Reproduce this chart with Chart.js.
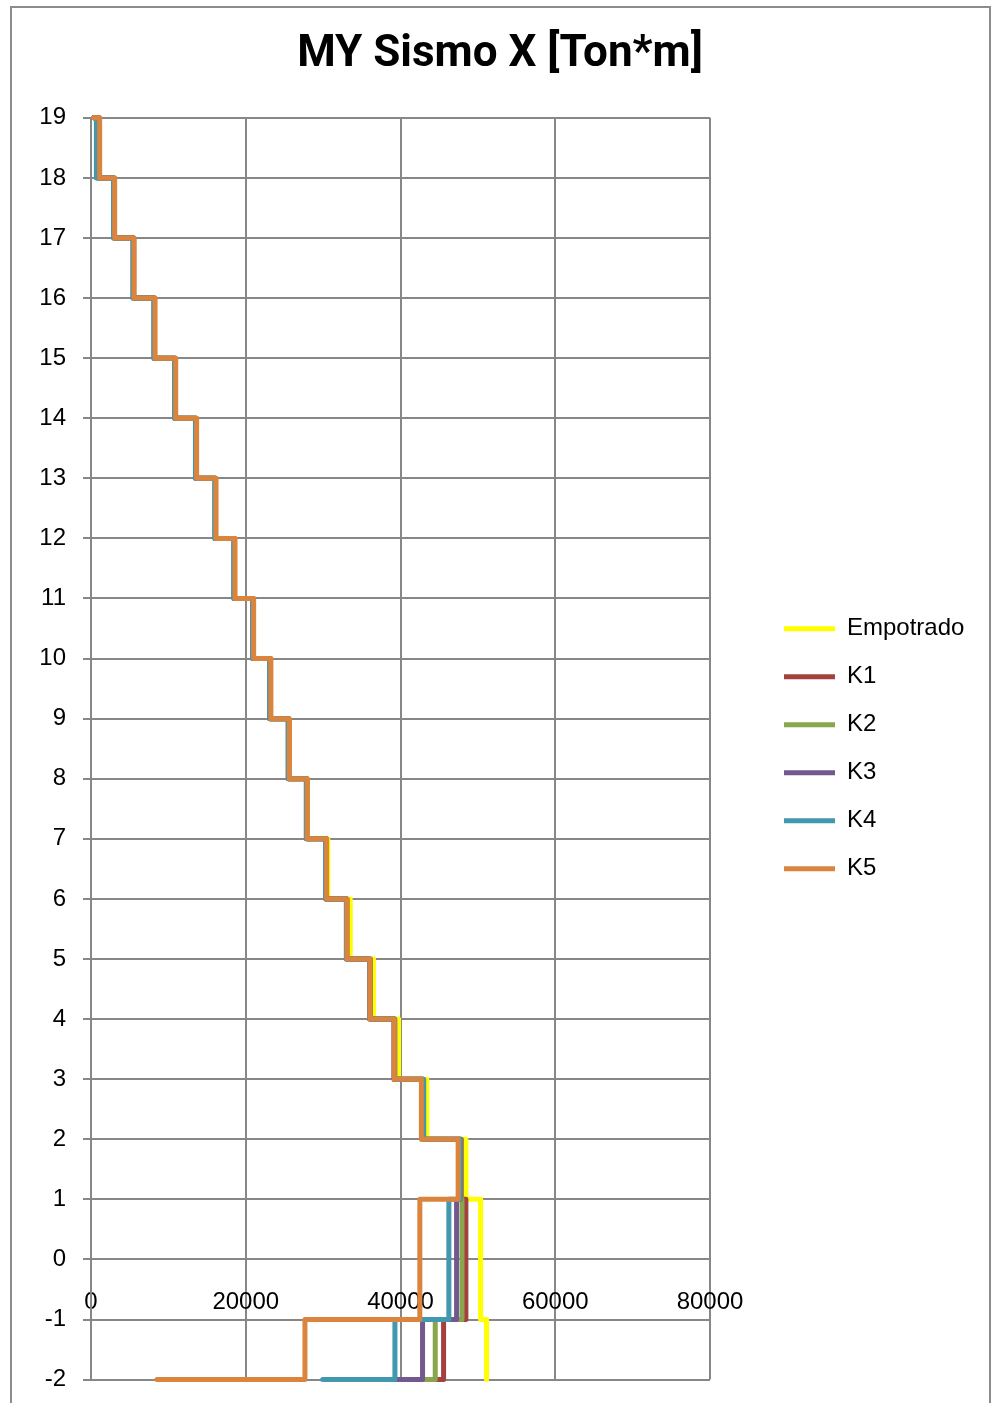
<!DOCTYPE html>
<html>
<head>
<meta charset="utf-8">
<title>MY Sismo X [Ton*m]</title>
<script src="https://cdn.jsdelivr.net/npm/chart.js@4.4.1/dist/chart.umd.min.js"></script>
<style>
  html, body { margin: 0; padding: 0; background: #ffffff; overflow: hidden; }
  #box { position: absolute; left: 0; top: 0; width: 991px; height: 1411px; }
  #frame {
    position: absolute; left: 10px; top: 6px; width: 977px; height: 1400px;
    border-left: 2px solid #8c8c8c; border-top: 2px solid #8c8c8c; border-right: 2px solid #8c8c8c;
    pointer-events: none;
  }
</style>
</head>
<body>
<div id="box"><canvas id="c" width="991" height="1411"></canvas></div>
<div id="frame"></div>
<script>
// Story levels, from the top of the building down to the base
const topLevel = 19;
const bottomLevel = -2;
const xTicks = [0, 20000, 40000, 60000, 80000];

// Bending moment MY per story (Ton*m), one value per story from [18,19] down to [-2,-1]
const empotrado = [1060, 3000, 5500, 8220, 10900, 13600, 16100, 18560, 20980, 23200, 25600, 27950, 30600, 33500, 36500, 39750, 43400, 48450, 50350, 50350, 51120];
const k1 = [1050, 3020, 5520, 8220, 10900, 13600, 16100, 18560, 20980, 23200, 25580, 27900, 30420, 33080, 36100, 39250, 42900, 47850, 48450, 48450, 45570];
const k2 = [1000, 3000, 5500, 8200, 10880, 13580, 16080, 18530, 20950, 23180, 25550, 27880, 30400, 33050, 36050, 39200, 42850, 47800, 47950, 47950, 44490];
const k3 = [900, 2950, 5440, 8150, 10830, 13530, 16030, 18480, 20900, 23100, 25500, 27850, 30360, 33020, 36000, 39150, 42800, 47700, 47250, 47250, 42850];
const k4 = [700, 2920, 5420, 8120, 10800, 13500, 16000, 18450, 20880, 23100, 25480, 27820, 30330, 33000, 36050, 39250, 43000, 47650, 46250, 46250, 39280];
const k5 = [1120, 3060, 5560, 8270, 10950, 13650, 16150, 18600, 21020, 23250, 25620, 27950, 30450, 33080, 36050, 39190, 42700, 47450, 42500, 42500, 27650];

// Moment at the roof and at the foot of the lowest story
const roofMoment = [350, 350, 350, 350, 350, 350];
const baseMoment = [51120, 40000, 36000, 33000, 29940, 8530];

const seriesNames = ['Empotrado', 'K1', 'K2', 'K3', 'K4', 'K5'];
const seriesValues = [empotrado, k1, k2, k3, k4, k5];
const seriesColors = ['#FFFF00', '#A4403D', '#89A54E', '#71588F', '#4198AF', '#DB843D'];

// Build the stepped profile: each story is a vertical run at its own moment
function stepProfile(start, stories, end) {
  const pts = [{ x: start, y: topLevel }];
  stories.forEach((v, i) => {
    const upper = topLevel - i;
    pts.push({ x: v, y: upper }, { x: v, y: upper - 1 });
  });
  pts.push({ x: end, y: bottomLevel });
  return pts;
}

const FONT = '"Liberation Sans", Arial, sans-serif';
const legendFontSize = 24;
const legendSwatch = 51;
const legendPad = 24;

// Page geometry of the plot frame
const plotLeft = 91;
const plotRight = 710;
const gapW = 50;

// Width of the longest legend entry, to size the right-hand margin
const mctx = document.createElement('canvas').getContext('2d');
mctx.font = legendFontSize + 'px ' + FONT;
const textW = Math.max(...seriesNames.map(n => mctx.measureText(n).width));
const legendW = legendPad + legendSwatch + legendFontSize / 2 + textW + 10;
const rightPad = Math.max(0, 991 - plotRight - gapW - legendW);
const leftPad = 9 + rightPad;   // keeps the title centred on the frame

const datasets = seriesNames.map((name, i) => ({
  label: name,
  data: stepProfile(roofMoment[i], seriesValues[i], baseMoment[i]),
  borderColor: seriesColors[i],
  backgroundColor: seriesColors[i],
  borderWidth: 5,
  borderCapStyle: 'round',
  borderJoinStyle: 'round',
  pointRadius: 0,
  pointHoverRadius: 0,
  tension: 0,
  fill: false,
  clip: false,
  yAxisID: 'y',
  xAxisID: 'x',
  order: seriesNames.length - 1 - i
}));

const gridColor = '#878787';

new Chart(document.getElementById('c'), {
  type: 'line',
  data: { datasets },
  options: {
    responsive: false,
    animation: false,
    devicePixelRatio: 1,
    layout: { padding: { left: leftPad, top: 0, right: rightPad, bottom: 0 } },
    plugins: {
      tooltip: { enabled: false },
      title: {
        display: true,
        text: 'MY Sismo X [Ton*m]',
        color: '#000000',
        font: { family: 'Roboto, ' + FONT, size: 44, weight: 'bold' },
        padding: { top: 29, bottom: 36 }
      },
      legend: {
        display: true,
        position: 'right',
        fullSize: false,
        maxWidth: 400,
        labels: {
          color: '#000000',
          font: { family: FONT, size: legendFontSize },
          usePointStyle: true,
          pointStyle: 'line',
          pointStyleWidth: legendSwatch,
          padding: legendPad,
          sort: (a, b) => a.datasetIndex - b.datasetIndex
        }
      }
    },
    scales: {
      x: {
        type: 'linear',
        position: { y: 0 },
        min: xTicks[0],
        max: xTicks[xTicks.length - 1],
        afterBuildTicks: (s) => { s.ticks = xTicks.map(v => ({ value: v })); },
        ticks: {
          color: '#000000',
          font: { family: FONT, size: 24 },
          padding: 21,
          maxRotation: 0,
          callback: (v) => String(v)
        },
        grid: { color: gridColor, lineWidth: 2, tickLength: 8 },
        border: { color: gridColor, width: 2 }
      },
      y: {
        type: 'linear',
        position: 'left',
        min: bottomLevel,
        max: topLevel,
        ticks: {
          stepSize: 1,
          color: '#000000',
          font: { family: FONT, size: 24 },
          padding: 17,
          callback: (v) => String(v)
        },
        grid: { color: gridColor, lineWidth: 2, tickLength: 8 },
        border: { color: gridColor, width: 2 },
        afterFit: (s) => { s.width = plotLeft - leftPad; }
      },
      gap: {
        type: 'linear',
        position: 'right',
        display: true,
        ticks: { display: false },
        grid: { display: false, drawOnChartArea: false, drawTicks: false },
        border: { display: false },
        afterFit: (s) => { s.width = gapW; }
      }
    }
  }
});
</script>
</body>
</html>
